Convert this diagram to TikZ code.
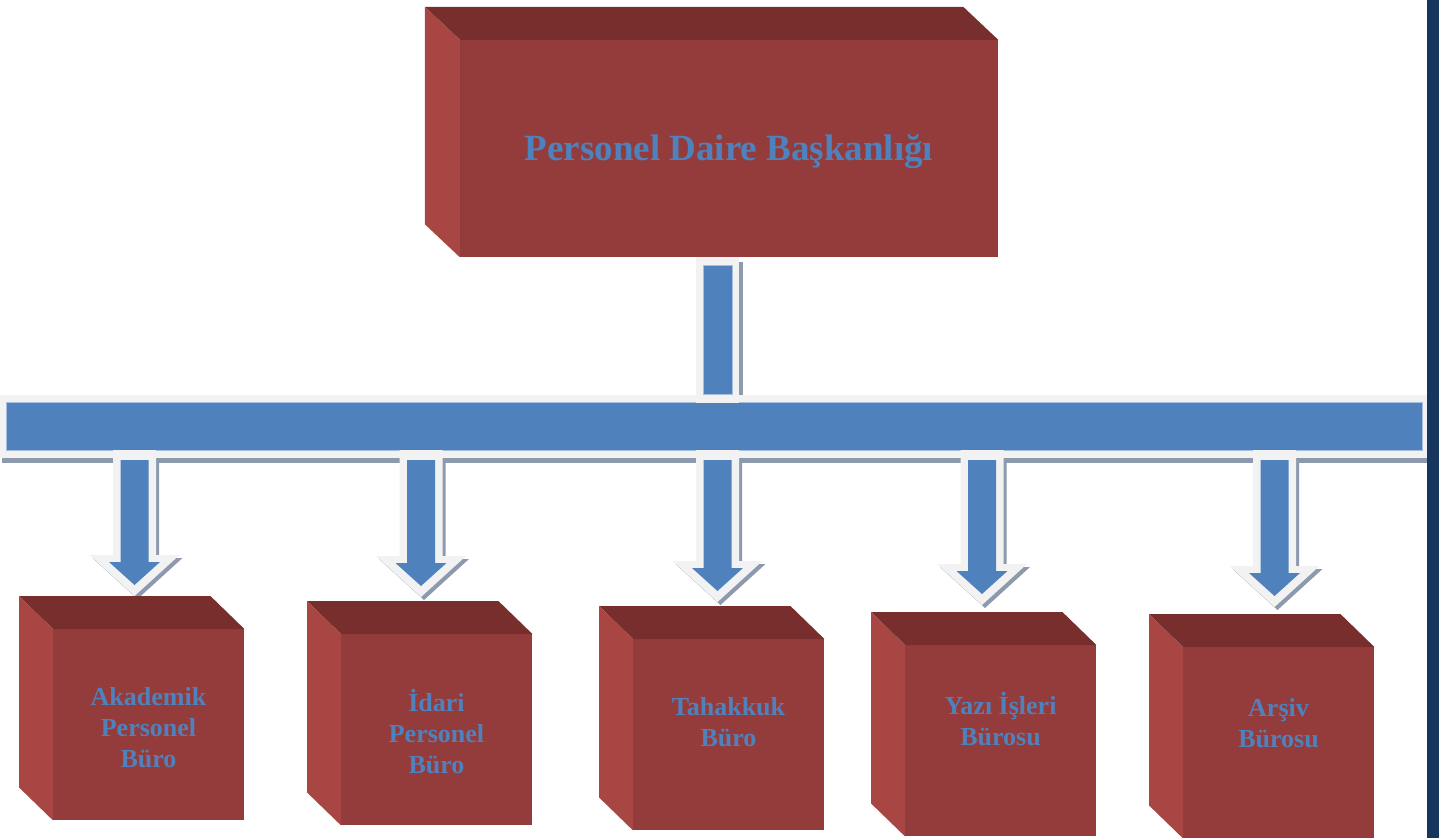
\documentclass[tikz,border=0pt]{standalone}
\usepackage{fontspec}
\setmainfont{Liberation Serif}
\usetikzlibrary{calc}

\definecolor{faceRed}{HTML}{943C3B}
\definecolor{topRed}{HTML}{772E2D}
\definecolor{sideRed}{HTML}{A84644}
\definecolor{barBlue}{HTML}{4F81BD}
\definecolor{barEdge}{HTML}{A7BFDE}
\definecolor{rimGrey}{HTML}{F2F2F2}
\definecolor{shadowGrey}{HTML}{8D9AAE}
\definecolor{frameNavy}{HTML}{17365D}

\tikzset{
  frontface/.style={fill=faceRed,minimum width=191pt,minimum height=191pt,inner sep=0pt},
  boxtext/.style={text=barBlue,font=\bfseries\fontsize{26}{31}\selectfont,align=center,inner sep=0pt},
}

\begin{document}
\begin{tikzpicture}[x=1pt,y=-1pt]
\useasboundingbox (0,0) rectangle (1439,838);
\pgfmathsetmacro{\depthX}{34}
\pgfmathsetmacro{\depthY}{33}
\pgfmathsetmacro{\barBottom}{450}

% navy frame on the right
\fill[frameNavy] (1427,0) rectangle (1439,838);

% head box
\node[frontface,minimum width=538pt,minimum height=217pt] (head) at (729,148.5) {};
\fill[topRed] (head.north west) -- ++(-35,-33) -- ($(head.north east)+(-35,-33)$)
  -- (head.north east) -- cycle;
\fill[sideRed] (head.north west) -- ++(-35,-33) -- ($(head.south west)+(-35,-33)$)
  -- (head.south west) -- cycle;
\node[boxtext,font=\bfseries\fontsize{37}{44}\selectfont] (headText) at (729,152)
  {Personel Daire Başkanlığı};

% horizontal bar
\node[minimum width=1415pt,minimum height=47pt,inner sep=0pt] (bar) at (714.5,426.5) {};
\fill[shadowGrey] ($(bar.south west)+(-5,8)$) rectangle ($(bar.south east)+(5,13)$);
\fill[rimGrey] ($(bar.north west)+(-7,-8)$) rectangle ($(bar.south east)+(5,8)$);
\fill[barBlue,draw=barEdge,line width=1pt] (bar.north west) rectangle (bar.south east);

% connector from head to bar
\coordinate (upTop) at ($(head.south)+(-11.5,0)$);
\fill[shadowGrey] ($(upTop)+(21.5,5)$) rectangle ($(upTop |- bar.north)+(25,-8)$);
\fill[rimGrey] ($(upTop)+(-21.5,0)$) rectangle ($(upTop |- bar.north)+(21.5,0)$);
\fill[barBlue,draw=barEdge,line width=0.6pt] ($(upTop)+(-14.5,8)$)
  rectangle ($(upTop |- bar.north)+(14.5,-9)$);

% offices below the bar
\foreach \fx/\fy/\ax/\tip/\ty/\txt [count=\i] in {
  53/629/134.5/596/728/{Akademik\\Personel\\Büro},
  341/634/421/597/732/{İdari\\Personel\\Büro},
  633/639/717.5/602/722.5/{Tahakkuk\\Büro},
  905/645/982/605/719.5/{Yazı İşleri\\Bürosu},
  1183/647/1274.5/607/723.5/{Arşiv\\Bürosu}} {
  % block arrow
  \coordinate (tip\i) at (\ax,\tip);
  \fill[shadowGrey] (\ax-18.5,\barBottom+8) -- (\ax+24.5,\barBottom+8)
    -- (\ax+24.5,\tip-38) -- (\ax+48,\tip-38) -- (\ax+3,\tip+3) -- (\ax-42,\tip-38)
    -- (\ax-18.5,\tip-38) -- cycle;
  \fill[rimGrey] (\ax-21.5,\barBottom) -- (\ax+21.5,\barBottom) -- (\ax+21.5,\tip-41)
    -- (\ax+45,\tip-41) -- (tip\i) -- (\ax-45,\tip-41) -- (\ax-21.5,\tip-41) -- cycle;
  \fill[barBlue] (\ax-14,\barBottom+10) -- (\ax+14,\barBottom+10) -- (\ax+14,\tip-34)
    -- (\ax+25.5,\tip-34) -- (\ax,\tip-11) -- (\ax-25.5,\tip-34) -- (\ax-14,\tip-34)
    -- cycle;
  % cube
  \node[frontface,anchor=north west] (box\i) at (\fx,\fy) {};
  \fill[topRed] (box\i.north west) -- ++(-\depthX,-\depthY)
    -- ($(box\i.north east)+(-\depthX,-\depthY)$) -- (box\i.north east) -- cycle;
  \fill[sideRed] (box\i.north west) -- ++(-\depthX,-\depthY)
    -- ($(box\i.south west)+(-\depthX,-\depthY)$) -- (box\i.south west) -- cycle;
  \node[boxtext] (lbl\i) at (\fx+95.5,\ty) {\txt};
}
\end{tikzpicture}
\end{document}
